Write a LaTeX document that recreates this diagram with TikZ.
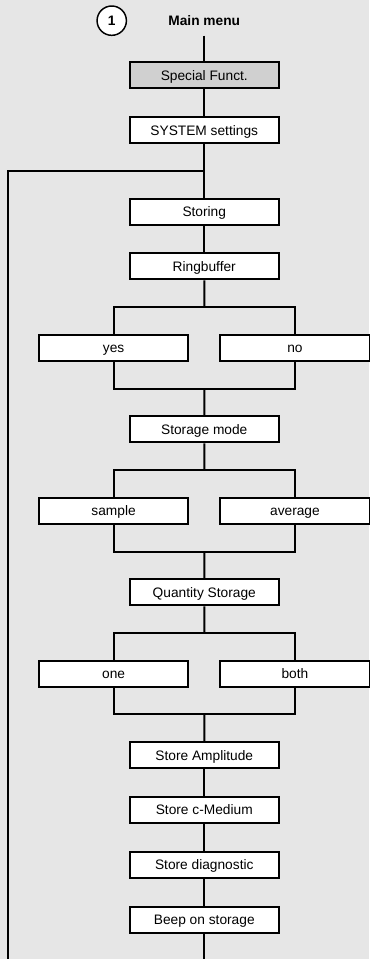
\documentclass[tikz,border=0pt]{standalone}
\usepackage{fontspec}
\setmainfont{Liberation Sans}
\usepackage{xcolor}
\usetikzlibrary{positioning,calc}

\definecolor{panelgray}{HTML}{E6E6E6}
\definecolor{headgray}{HTML}{D0D0D0}

\begin{document}
\begin{tikzpicture}[
		node distance=20pt and 8mm,
		font=\fontsize{10.3}{12}\selectfont,
		menubox/.style={
			draw,
			fill=white,
			line width=1.5pt,
			minimum width=112pt,
			minimum height=19.6pt,
			inner sep=0pt,
			text height=7.4pt,
			text depth=0pt,
			align=center
		},
		numcircle/.style={
			draw,
			circle,
			fill=white,
			line width=1.1pt,
			minimum size=22pt,
			inner sep=0pt,
			text height=7.4pt,
			text depth=0pt,
			font=\fontsize{10.3}{12}\selectfont\bfseries
		},
		link/.style={line width=1.5pt}
	]
		% background and page size
		\fill[panelgray] (0,0) rectangle (276.75pt,-719.25pt);
		\useasboundingbox (0,0) rectangle (276.75pt,-719.25pt);

		\node[numcircle] (num) at (83.8pt,-15.5pt) {1};
		\node[font=\fontsize{10.3}{12}\selectfont\bfseries, text height=7.4pt, text depth=0pt] (mainmenu) at (153.2pt,-15.5pt) {Main menu};

		\node[menubox, fill=headgray] (special) at (153.2pt,-56.5pt) {Special Funct.};
		\node[menubox, below=of special] (system) {SYSTEM settings};
		\node[menubox, below=40pt of system] (storing) {Storing};
		\node[menubox, below=of storing] (ringbuffer) {Ringbuffer};

		\node[menubox, below=40pt of ringbuffer, xshift=-68pt] (yes) {yes};
		\node[menubox, below=40pt of ringbuffer, xshift=68pt] (no) {no};
		\node[menubox, below=40pt of yes, xshift=68pt] (storagemode) {Storage mode};

		\node[menubox, below=40pt of storagemode, xshift=-68pt] (sample) {sample};
		\node[menubox, below=40pt of storagemode, xshift=68pt] (average) {average};
		\node[menubox, below=40pt of sample, xshift=68pt] (quantity) {Quantity Storage};

		\node[menubox, below=40pt of quantity, xshift=-68pt] (one) {one};
		\node[menubox, below=40pt of quantity, xshift=68pt] (both) {both};
		\node[menubox, below=40pt of one, xshift=68pt] (amplitude) {Store Amplitude};

		\node[menubox, below=of amplitude] (cmedium) {Store c-Medium};
		\node[menubox, below=of cmedium] (diagnostic) {Store diagnostic};
		\node[menubox, below=of diagnostic] (beep) {Beep on storage};

		% junctions
		\coordinate (loopjoin) at ($(system.south)!0.5!(storing.north)$);
		\coordinate (split1) at ($(ringbuffer.south)!0.5!(ringbuffer.south |- yes.north)$);
		\coordinate (merge1) at ($(storagemode.north)!0.5!(storagemode.north |- yes.south)$);
		\coordinate (split2) at ($(storagemode.south)!0.5!(storagemode.south |- sample.north)$);
		\coordinate (merge2) at ($(quantity.north)!0.5!(quantity.north |- sample.south)$);
		\coordinate (split3) at ($(quantity.south)!0.5!(quantity.south |- one.north)$);
		\coordinate (merge3) at ($(amplitude.north)!0.5!(amplitude.north |- one.south)$);
		\coordinate (loopend) at (6pt,-720pt);
		\coordinate (spineend) at (beep |- loopend);

		\draw[link, shorten <=4pt] (mainmenu.south) -- (special.north);
		\draw[link] (special) -- (system);
		\draw[link] (system) -- (storing);
		\draw[link] (storing) -- (ringbuffer);
		\draw[link] (loopjoin) -| (loopend);

		\draw[link] (ringbuffer) -- (split1);
		\draw[link] (yes.north) |- (split1) -| (no.north);
		\draw[link] (yes.south) |- (merge1) -| (no.south);
		\draw[link] (merge1) -- (storagemode);

		\draw[link] (storagemode) -- (split2);
		\draw[link] (sample.north) |- (split2) -| (average.north);
		\draw[link] (sample.south) |- (merge2) -| (average.south);
		\draw[link] (merge2) -- (quantity);

		\draw[link] (quantity) -- (split3);
		\draw[link] (one.north) |- (split3) -| (both.north);
		\draw[link] (one.south) |- (merge3) -| (both.south);
		\draw[link] (merge3) -- (amplitude);

		\draw[link] (amplitude) -- (cmedium);
		\draw[link] (cmedium) -- (diagnostic);
		\draw[link] (diagnostic) -- (beep);
		\draw[link] (beep) -- (spineend);
	\end{tikzpicture}
\end{document}
